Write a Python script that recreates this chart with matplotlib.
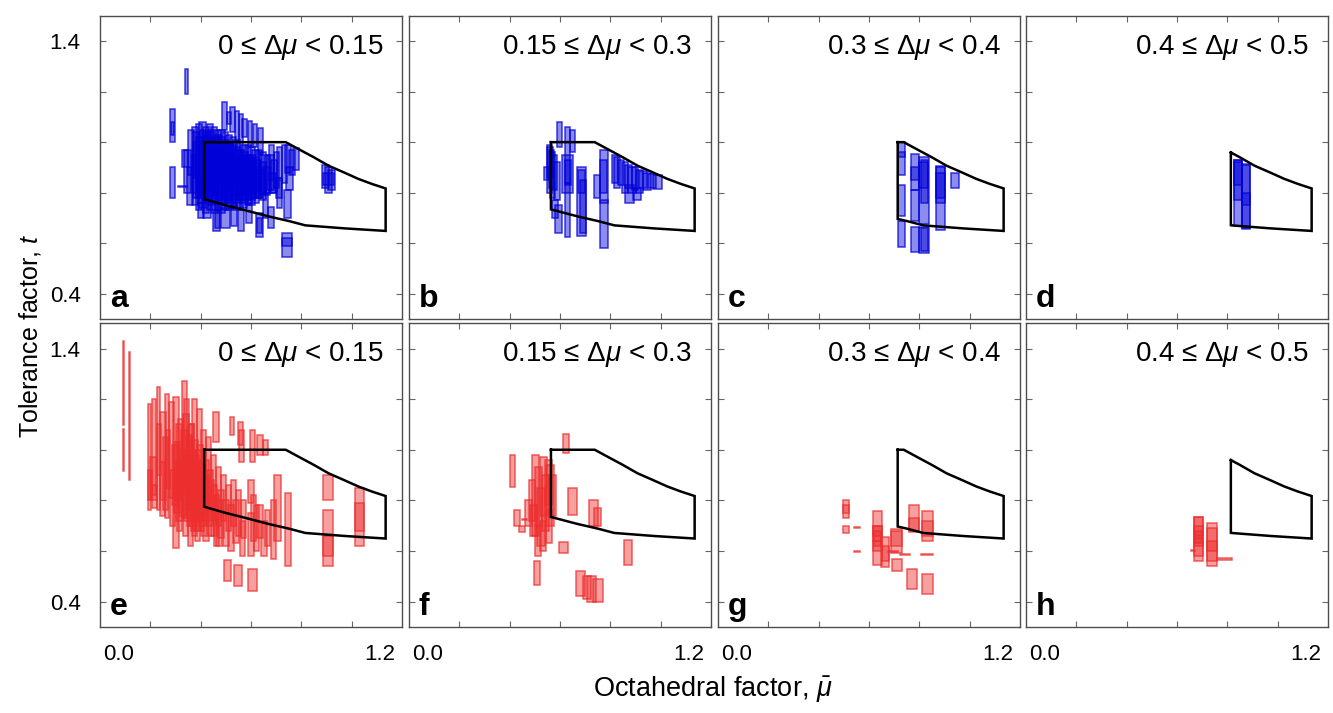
import numpy as np
import matplotlib
matplotlib.use("Agg")
import matplotlib.pyplot as plt

plt.rcParams['font.family'] = ['Liberation Sans', 'DejaVu Sans']
plt.rcParams['mathtext.fontset'] = 'custom'
plt.rcParams['mathtext.rm'] = 'Liberation Sans'
plt.rcParams['mathtext.it'] = 'Liberation Sans:italic'
plt.rcParams['mathtext.bf'] = 'Liberation Sans:bold'

# ---------------- data ----------------
panel_letters = ['a', 'b', 'c', 'd', 'e', 'f', 'g', 'h']
dmu_low = [0.0, 0.15, 0.3, 0.4]
panel_titles = ["0 ≤ Δ$\\mu$ < 0.15", "0.15 ≤ Δ$\\mu$ < 0.3",
                "0.3 ≤ Δ$\\mu$ < 0.4", "0.4 ≤ Δ$\\mu$ < 0.5"]
mu_octahedral = 0.414

# stability region boundaries
upper_mu = [0.41, 0.738, 0.79, 0.85, 0.908, 0.97, 1.026, 1.08, 1.135]
upper_t = [1.0, 1.0, 0.972, 0.94, 0.907, 0.88, 0.855, 0.835, 0.817]
lower_mu = [0.41, 0.489, 0.58, 0.672, 0.751, 0.816, 0.974, 1.135]
lower_t = [0.776, 0.753, 0.730, 0.706, 0.688, 0.671, 0.659, 0.649]

# boxes: (mu_min, mu_max, t_min, t_max)
a_boxes = [
    (0.338, 0.350, 1.19, 1.29), (0.279, 0.297, 1.00, 1.13), (0.281, 0.295, 1.03, 1.08),
    (0.279, 0.297, 0.78, 0.90), (0.310, 0.345, 0.822, 0.827),
    (0.335, 0.360, 0.80, 0.97), (0.345, 0.370, 0.75, 0.90), (0.350, 0.372, 0.87, 1.05),
    (0.325, 0.350, 0.90, 0.97),
    (0.365, 0.390, 0.80, 1.06), (0.365, 0.390, 0.75, 0.95), (0.368, 0.392, 0.86, 1.04),
    (0.380, 0.405, 0.78, 1.07), (0.380, 0.405, 0.73, 0.92), (0.383, 0.407, 0.84, 1.02),
    (0.395, 0.420, 0.79, 1.08), (0.395, 0.420, 0.74, 0.96), (0.398, 0.422, 0.88, 1.05),
    (0.410, 0.435, 0.77, 1.06), (0.410, 0.435, 0.72, 0.90), (0.413, 0.437, 0.85, 1.03),
    (0.425, 0.450, 0.78, 1.07), (0.425, 0.450, 0.73, 0.94), (0.428, 0.452, 0.86, 1.05),
    (0.440, 0.465, 0.76, 1.06), (0.440, 0.465, 0.72, 0.91), (0.443, 0.467, 0.83, 1.02),
    (0.455, 0.480, 0.77, 1.05), (0.455, 0.480, 0.73, 0.93), (0.458, 0.482, 0.85, 1.03),
    (0.470, 0.495, 0.76, 1.05), (0.470, 0.495, 0.72, 0.90), (0.473, 0.497, 0.84, 1.02),
    (0.485, 0.510, 0.77, 1.04), (0.485, 0.510, 0.73, 0.92), (0.488, 0.512, 0.83, 1.01),
    (0.500, 0.525, 0.76, 1.03), (0.500, 0.525, 0.73, 0.90), (0.503, 0.527, 0.82, 1.00),
    (0.515, 0.540, 0.77, 1.02), (0.515, 0.540, 0.74, 0.91), (0.518, 0.542, 0.83, 0.99),
    (0.530, 0.555, 0.76, 1.01), (0.530, 0.555, 0.73, 0.89), (0.533, 0.557, 0.82, 0.98),
    (0.545, 0.570, 0.77, 1.00), (0.545, 0.570, 0.74, 0.90), (0.548, 0.572, 0.81, 0.97),
    (0.560, 0.585, 0.76, 0.99), (0.560, 0.585, 0.74, 0.88), (0.563, 0.587, 0.80, 0.96),
    (0.575, 0.600, 0.77, 0.99), (0.575, 0.600, 0.75, 0.89), (0.578, 0.602, 0.81, 0.95),
    (0.590, 0.615, 0.77, 0.98), (0.590, 0.615, 0.75, 0.88), (0.593, 0.617, 0.80, 0.95),
    (0.605, 0.630, 0.78, 0.97), (0.605, 0.630, 0.76, 0.89), (0.608, 0.632, 0.81, 0.94),
    (0.620, 0.645, 0.78, 0.97), (0.620, 0.645, 0.78, 0.90),
    (0.635, 0.660, 0.79, 0.96), (0.635, 0.660, 0.77, 0.89),
    (0.650, 0.675, 0.80, 0.95), (0.650, 0.675, 0.79, 0.90),
    (0.665, 0.690, 0.81, 0.95), (0.680, 0.705, 0.80, 0.93),
    (0.370, 0.400, 0.78, 1.00), (0.390, 0.420, 0.76, 0.98), (0.410, 0.440, 0.80, 1.04),
    (0.430, 0.460, 0.75, 0.97), (0.450, 0.480, 0.79, 1.02), (0.470, 0.500, 0.75, 0.96),
    (0.490, 0.520, 0.78, 1.00), (0.510, 0.540, 0.76, 0.95), (0.530, 0.560, 0.79, 0.97),
    (0.550, 0.580, 0.77, 0.94), (0.570, 0.600, 0.79, 0.95), (0.590, 0.620, 0.78, 0.93),
    (0.610, 0.640, 0.80, 0.93), (0.630, 0.660, 0.80, 0.92),
    (0.486, 0.504, 1.05, 1.16), (0.504, 0.521, 1.07, 1.12), (0.515, 0.535, 1.04, 1.14),
    (0.535, 0.551, 1.005, 1.125), (0.551, 0.570, 1.00, 1.11), (0.565, 0.583, 1.02, 1.09),
    (0.587, 0.604, 0.98, 1.085), (0.606, 0.624, 0.98, 1.07), (0.626, 0.646, 0.95, 1.055),
    (0.672, 0.692, 0.85, 0.99), (0.690, 0.712, 0.82, 0.96), (0.705, 0.725, 0.86, 0.98),
    (0.722, 0.745, 0.84, 0.99), (0.735, 0.760, 0.88, 0.99), (0.750, 0.775, 0.87, 0.97),
    (0.765, 0.790, 0.89, 0.975), (0.740, 0.765, 0.81, 0.90), (0.670, 0.700, 0.80, 0.88),
    (0.700, 0.725, 0.78, 0.86),
    (0.410, 0.443, 0.70, 0.77), (0.449, 0.475, 0.65, 0.73), (0.455, 0.478, 0.66, 0.76),
    (0.480, 0.515, 0.66, 0.74), (0.548, 0.573, 0.65, 0.73), (0.620, 0.646, 0.625, 0.72),
    (0.625, 0.645, 0.64, 0.70), (0.666, 0.692, 0.66, 0.745), (0.725, 0.761, 0.547, 0.62),
    (0.725, 0.761, 0.59, 0.64), (0.731, 0.758, 0.70, 0.81), (0.705, 0.725, 0.74, 0.85),
    (0.646, 0.666, 0.70, 0.80), (0.580, 0.605, 0.68, 0.76), (0.520, 0.545, 0.67, 0.75),
    (0.390, 0.415, 0.70, 0.76),
    (0.882, 0.910, 0.82, 0.91), (0.895, 0.922, 0.80, 0.90), (0.905, 0.934, 0.81, 0.89),
    (0.885, 0.930, 0.83, 0.88),
]

b_boxes = [
    (0.587, 0.607, 0.98, 1.08), (0.620, 0.640, 0.84, 1.06), (0.640, 0.660, 0.96, 1.05),
    (0.548, 0.570, 0.80, 0.99), (0.555, 0.575, 0.82, 0.97), (0.560, 0.580, 0.78, 0.96),
    (0.565, 0.590, 0.81, 0.95), (0.575, 0.600, 0.77, 0.92), (0.550, 0.572, 0.86, 0.98),
    (0.535, 0.555, 0.85, 0.90),
    (0.580, 0.606, 0.64, 0.75), (0.567, 0.593, 0.70, 0.77),
    (0.620, 0.640, 0.625, 0.84), (0.606, 0.650, 0.80, 0.95), (0.620, 0.645, 0.83, 0.93),
    (0.666, 0.705, 0.63, 0.90), (0.680, 0.705, 0.64, 0.85), (0.672, 0.700, 0.80, 0.89),
    (0.735, 0.757, 0.78, 0.87),
    (0.758, 0.790, 0.58, 0.77), (0.758, 0.790, 0.76, 0.97), (0.760, 0.785, 0.80, 0.93),
    (0.805, 0.830, 0.84, 0.95), (0.815, 0.840, 0.82, 0.94), (0.830, 0.855, 0.83, 0.93),
    (0.845, 0.870, 0.80, 0.92), (0.860, 0.885, 0.82, 0.91), (0.870, 0.900, 0.80, 0.90),
    (0.885, 0.910, 0.81, 0.90), (0.900, 0.930, 0.80, 0.89), (0.915, 0.945, 0.82, 0.885),
    (0.930, 0.960, 0.81, 0.88), (0.950, 0.980, 0.82, 0.875), (0.970, 1.005, 0.815, 0.87),
    (0.860, 0.895, 0.76, 0.83), (0.890, 0.920, 0.77, 0.82),
]

c_boxes = [
    (0.716, 0.742, 0.94, 1.00), (0.716, 0.742, 0.87, 0.96), (0.716, 0.742, 0.71, 0.83),
    (0.716, 0.745, 0.585, 0.69),
    (0.768, 0.797, 0.81, 0.955), (0.768, 0.797, 0.85, 0.90), (0.768, 0.797, 0.69, 0.81),
    (0.768, 0.797, 0.566, 0.665),
    (0.800, 0.840, 0.675, 0.94), (0.805, 0.835, 0.76, 0.93), (0.800, 0.835, 0.82, 0.92),
    (0.800, 0.840, 0.56, 0.665), (0.805, 0.835, 0.57, 0.66),
    (0.867, 0.900, 0.654, 0.905), (0.867, 0.900, 0.76, 0.88), (0.867, 0.900, 0.78, 0.90),
    (0.926, 0.959, 0.82, 0.88),
]

d_boxes = [
    (0.826, 0.859, 0.667, 0.93), (0.826, 0.859, 0.77, 0.92), (0.826, 0.859, 0.83, 0.93),
    (0.859, 0.889, 0.655, 0.915), (0.860, 0.889, 0.66, 0.80), (0.860, 0.890, 0.75, 0.91),
]

e_boxes = [
    (0.091, 0.095, 1.096, 1.43), (0.091, 0.095, 0.915, 1.083), (0.114, 0.118, 0.88, 1.385),
    (0.190, 0.203, 0.76, 1.18), (0.190, 0.205, 0.80, 0.92), (0.200, 0.225, 0.80, 0.97),
    (0.205, 0.225, 0.77, 0.86), (0.226, 0.240, 0.76, 1.25), (0.226, 0.242, 0.90, 1.10),
    (0.240, 0.258, 0.74, 0.95), (0.259, 0.276, 0.73, 1.22), (0.262, 0.280, 0.85, 1.08),
    (0.276, 0.294, 0.81, 1.19), (0.280, 0.298, 0.70, 0.92), (0.292, 0.312, 0.61, 1.21),
    (0.296, 0.316, 0.75, 1.03), (0.305, 0.325, 0.68, 0.95), (0.310, 0.330, 0.80, 1.12),
    (0.325, 0.347, 0.73, 1.27), (0.330, 0.350, 0.66, 0.90), (0.335, 0.355, 0.85, 1.20),
    (0.345, 0.365, 0.70, 1.05), (0.350, 0.370, 0.62, 0.85), (0.355, 0.375, 0.78, 1.10),
    (0.364, 0.384, 0.66, 1.20), (0.370, 0.392, 0.72, 0.98), (0.378, 0.398, 0.64, 0.88),
    (0.384, 0.404, 0.80, 1.16), (0.392, 0.414, 0.68, 0.95), (0.400, 0.420, 0.74, 1.08),
    (0.410, 0.432, 0.64, 0.90), (0.420, 0.440, 0.76, 1.05), (0.430, 0.452, 0.66, 0.88),
    (0.440, 0.460, 0.72, 0.98), (0.449, 0.473, 1.03, 1.15), (0.452, 0.474, 0.62, 0.82),
    (0.460, 0.482, 0.70, 0.93), (0.470, 0.492, 0.65, 0.84), (0.480, 0.500, 0.72, 0.90),
    (0.490, 0.512, 0.62, 0.80), (0.500, 0.520, 0.68, 0.86), (0.517, 0.533, 1.06, 1.13),
    (0.510, 0.532, 0.60, 0.78), (0.520, 0.540, 0.70, 0.88), (0.530, 0.552, 0.63, 0.80),
    (0.547, 0.567, 1.02, 1.11), (0.540, 0.560, 0.66, 0.84), (0.553, 0.573, 0.95, 1.08),
    (0.555, 0.575, 0.58, 0.72), (0.560, 0.580, 0.65, 0.80), (0.587, 0.613, 0.79, 0.88),
    (0.590, 0.612, 0.58, 0.75), (0.596, 0.617, 0.95, 1.08), (0.600, 0.620, 0.64, 0.82),
    (0.612, 0.632, 0.60, 0.78), (0.624, 0.646, 0.98, 1.06), (0.625, 0.648, 0.65, 0.78),
    (0.646, 0.666, 0.98, 1.04), (0.640, 0.662, 0.58, 0.72), (0.655, 0.675, 0.62, 0.76),
    (0.679, 0.700, 0.57, 0.80), (0.690, 0.718, 0.64, 0.90), (0.735, 0.757, 0.54, 0.83),
    (0.888, 0.924, 0.80, 0.90), (0.888, 0.924, 0.54, 0.76), (0.888, 0.924, 0.58, 0.66),
    (1.013, 1.050, 0.62, 0.85), (1.013, 1.050, 0.68, 0.79),
    (0.492, 0.521, 0.48, 0.565), (0.532, 0.563, 0.46, 0.545), (0.587, 0.624, 0.44, 0.528),
    (0.340, 0.365, 0.76, 1.06), (0.355, 0.380, 0.70, 1.00), (0.365, 0.390, 0.74, 1.04),
    (0.375, 0.400, 0.68, 0.96), (0.385, 0.410, 0.72, 1.02), (0.395, 0.420, 0.70, 0.94),
    (0.300, 0.325, 0.80, 1.10), (0.315, 0.340, 0.74, 1.00), (0.330, 0.355, 0.90, 1.14),
    (0.350, 0.375, 0.88, 1.10),
    (0.285, 0.310, 0.78, 1.02), (0.300, 0.330, 0.72, 0.96), (0.320, 0.345, 0.82, 1.08),
    (0.335, 0.360, 0.72, 0.98), (0.350, 0.370, 0.80, 1.04), (0.360, 0.385, 0.68, 0.92),
    (0.380, 0.405, 0.76, 1.00), (0.400, 0.425, 0.66, 0.90), (0.410, 0.435, 0.72, 0.96),
    (0.425, 0.450, 0.70, 0.92), (0.440, 0.465, 0.66, 0.86), (0.460, 0.485, 0.62, 0.80),
    (0.240, 0.262, 0.80, 1.15), (0.205, 0.222, 0.82, 1.20), (0.250, 0.270, 0.76, 1.05),
]

f_boxes = [
    (0.400, 0.423, 0.853, 0.98), (0.613, 0.636, 0.989, 1.063),
    (0.417, 0.443, 0.70, 0.76), (0.436, 0.460, 0.673, 0.70), (0.449, 0.469, 0.721, 0.725),
    (0.495, 0.522, 0.466, 0.56), (0.633, 0.666, 0.744, 0.85), (0.597, 0.633, 0.59, 0.636),
    (0.714, 0.751, 0.70, 0.80), (0.735, 0.761, 0.70, 0.77), (0.853, 0.888, 0.545, 0.645),
    (0.662, 0.699, 0.42, 0.52), (0.692, 0.725, 0.41, 0.50), (0.709, 0.744, 0.40, 0.50),
    (0.731, 0.770, 0.40, 0.49),
    (0.475, 0.500, 0.72, 0.88), (0.490, 0.515, 0.66, 0.98), (0.500, 0.530, 0.70, 0.93),
    (0.510, 0.540, 0.62, 0.85), (0.520, 0.550, 0.74, 0.97), (0.530, 0.555, 0.68, 0.90),
    (0.540, 0.570, 0.78, 0.96), (0.545, 0.575, 0.70, 0.94), (0.555, 0.585, 0.74, 0.90),
    (0.480, 0.510, 0.66, 0.78), (0.500, 0.525, 0.58, 0.70), (0.520, 0.545, 0.60, 0.72),
    (0.545, 0.570, 0.63, 0.76), (0.460, 0.490, 0.70, 0.80),
]

g_boxes = [
    (0.495, 0.521, 0.73, 0.80), (0.495, 0.521, 0.75, 0.78), (0.495, 0.521, 0.67, 0.70),
    (0.542, 0.564, 0.691, 0.695), (0.542, 0.564, 0.597, 0.601),
    (0.614, 0.650, 0.64, 0.757), (0.614, 0.650, 0.60, 0.70), (0.614, 0.650, 0.545, 0.64),
    (0.618, 0.648, 0.62, 0.68), (0.614, 0.650, 0.66, 0.70),
    (0.647, 0.679, 0.535, 0.656), (0.650, 0.679, 0.56, 0.62),
    (0.689, 0.732, 0.59, 0.685), (0.689, 0.730, 0.62, 0.68), (0.674, 0.716, 0.597, 0.601),
    (0.693, 0.732, 0.52, 0.57), (0.722, 0.763, 0.585, 0.589), (0.808, 0.854, 0.585, 0.589),
    (0.758, 0.799, 0.675, 0.78), (0.760, 0.799, 0.68, 0.73),
    (0.810, 0.854, 0.64, 0.756), (0.810, 0.854, 0.66, 0.72),
    (0.750, 0.792, 0.45, 0.53), (0.810, 0.854, 0.43, 0.51),
]

h_boxes = [
    (0.667, 0.702, 0.559, 0.736), (0.667, 0.702, 0.62, 0.70), (0.667, 0.702, 0.66, 0.736),
    (0.667, 0.702, 0.58, 0.65), (0.670, 0.700, 0.63, 0.68), (0.656, 0.670, 0.599, 0.602),
    (0.719, 0.758, 0.54, 0.71), (0.719, 0.758, 0.60, 0.69), (0.720, 0.758, 0.56, 0.64),
    (0.757, 0.818, 0.565, 0.572),
]

all_boxes = [a_boxes, b_boxes, c_boxes, d_boxes, e_boxes, f_boxes, g_boxes, h_boxes]

blue = (0.0, 0.0, 0.85)
red = (0.93, 0.18, 0.18)

# ---------------- figure ----------------
W, H = 1333, 713
fig = plt.figure(figsize=(W / 100, H / 100), dpi=100)

col_left = [100, 409, 718, 1026]
row_top = [15.7, 323.3]
pw, ph = 302, 303.5


def region(dmu):
    m0 = mu_octahedral + dmu
    um = [m0] + [m for m in upper_mu if m > m0]
    ut = [np.interp(m0, upper_mu, upper_t)] + [t for m, t in zip(upper_mu, upper_t) if m > m0]
    lm = [m0] + [m for m in lower_mu if m > m0]
    lt = [np.interp(m0, lower_mu, lower_t)] + [t for m, t in zip(lower_mu, lower_t) if m > m0]
    xs = um + lm[::-1] + [um[0]]
    ys = ut + lt[::-1] + [ut[0]]
    return xs, ys


for r in range(2):
    for c in range(4):
        k = r * 4 + c
        ax = fig.add_axes([col_left[c] / W, 1 - (row_top[r] + ph) / H, pw / W, ph / H])
        ax.set_xlim(0, 1.2)
        ax.set_ylim(0.3, 1.5)
        color = blue if r == 0 else red
        bx = np.array(all_boxes[k])
        ax.bar(bx[:, 0], bx[:, 3] - bx[:, 2], width=bx[:, 1] - bx[:, 0], bottom=bx[:, 2],
               align='edge', facecolor=color + (0.45,), edgecolor=color + (0.75,),
               linewidth=1.1, zorder=2)
        xs, ys = region(dmu_low[c])
        ax.plot(xs, ys, color='black', lw=1.8, zorder=3, solid_joinstyle='miter')

        ax.set_xticks([0.2, 0.4, 0.6, 0.8, 1.0])
        ax.set_xticklabels([])
        ax.set_yticks([0.4, 0.6, 0.8, 1.0, 1.2, 1.4])
        if c == 0:
            ax.set_yticklabels(['0.4', '', '', '', '', '1.4'])
        else:
            ax.set_yticklabels([])
        ax.tick_params(direction='in', length=4, width=0.8, color='0.4',
                       top=True, right=True, labelsize=16, pad=14)
        for s in ax.spines.values():
            s.set_color('0.3')
            s.set_linewidth(1.0)

        ax.text(0.937, 0.875, panel_titles[c], transform=ax.transAxes,
                ha='right', va='baseline', fontsize=20)
        ax.text(0.033, 0.04, panel_letters[k], transform=ax.transAxes,
                ha='left', va='baseline', fontsize=23, fontweight='bold')
        if r == 1:
            ax.text(0.06, -0.092, '0.0', transform=ax.transAxes, ha='center',
                    va='center', fontsize=16)
            ax.text(0.927, -0.092, '1.2', transform=ax.transAxes, ha='center',
                    va='center', fontsize=16)

fig.text(30 / W, 1 - 336 / H, 'Tolerance factor, $t$', rotation=90,
         ha='center', va='center', fontsize=18)
fig.text(713 / W, 1 - 690 / H, 'Octahedral factor, $\\bar{\\mu}$',
         ha='center', va='center', fontsize=19.5)

fig.savefig('out.png', dpi=100)
